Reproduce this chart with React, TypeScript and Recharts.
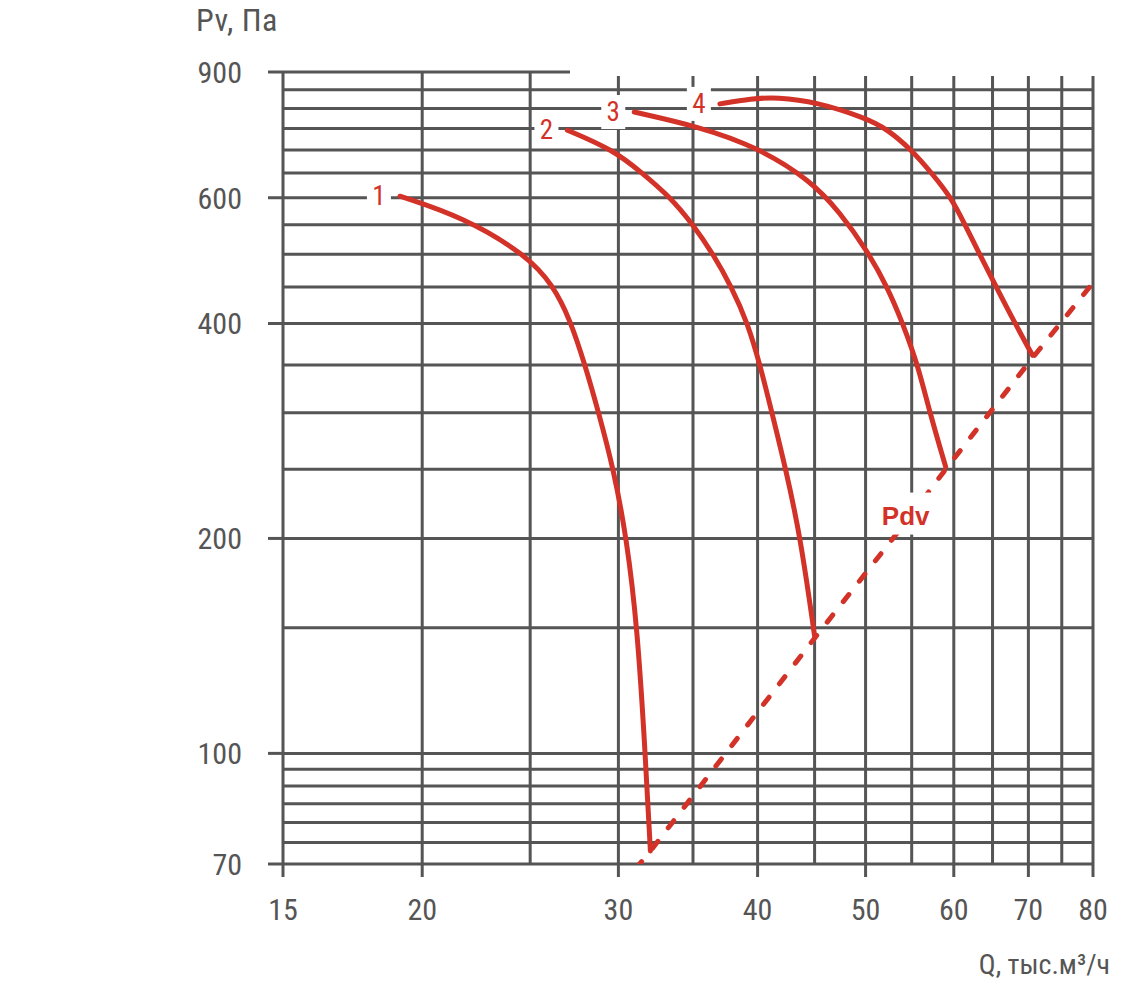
import React from 'react'
import { LineChart, Line, XAxis, YAxis, CartesianGrid, LabelList } from 'recharts'

// Q, тыс.м³/ч  /  Pv, Па (log-log)
const curve1Q = [19.1, 21.75, 24.8, 26.2, 27.15, 28.0, 28.8, 29.7, 30.5, 31.2, 31.7, 32.05]
const curve1P = [603, 564, 499, 453, 405, 350, 300, 250, 201, 150, 101, 73]

const curve2Q = [27.0, 29.7, 31.5, 33.4, 35.0, 36.5, 37.9, 39.2, 40.2, 41.2, 42.4, 43.7, 45.0]
const curve2P = [746, 700, 650, 601, 550, 500, 450, 400, 350, 300, 250, 201, 146]

const curve3Q = [31.0, 35.5, 40.0, 44.6, 47.4, 50.2, 52.3, 54.0, 55.7, 57.1, 59.0]
const curve3P = [791, 754, 706, 635, 573, 505, 450, 400, 350, 300, 252]

const curve4Q = [37.0, 39.5, 41.6, 45.2, 50.0, 52.2, 55.0, 57.3, 59.7, 61.4, 63.3, 65.5, 68.1, 70.6]
const curve4P = [812, 826, 830, 817, 776, 750, 700, 650, 600, 550, 500, 450, 400, 361]

// dynamic pressure line
const pdvQ = [31.1, 32.05, 45.0, 55.0, 59.0, 70.6, 80.0]
const pdvP = [69, 73, 145, 216, 250, 358, 456]
const pdvLabelIndex = 3

const curveNames = ['1', '2', '3', '4']

const xGrid = [15, 20, 25, 30, 35, 40, 45, 50, 55, 60, 65, 70, 75, 80]
const xLabels = [15, 20, 30, 40, 50, 60, 70, 80]
const yGrid = [70, 75, 80, 85, 90, 95, 100, 150, 200, 250, 300, 350, 400, 450, 500, 550, 600, 650, 700, 750, 800, 850, 900]
const yLabels = [70, 100, 200, 400, 600, 900]

const RED = '#d23228'
const GRID = '#555'
const TEXT = '#555'
const FONT = "'Liberation Sans Narrow', 'Roboto Condensed', Roboto, sans-serif"

const toRows = (q: number[], p: number[]) => q.map((v, i) => ({ q: v, p: p[i] }))

const curves = [
  toRows(curve1Q, curve1P),
  toRows(curve2Q, curve2P),
  toRows(curve3Q, curve3P),
  toRows(curve4Q, curve4P),
]
const pdvData = toRows(pdvQ, pdvP)

function XTick(props: any) {
  const { x, y, payload } = props
  if (!xLabels.includes(payload.value)) return null
  return (
    <g>
      <line x1={x} x2={x} y1={y} y2={y + 13} stroke={GRID} strokeWidth={3} />
      <text x={x} y={y + 56} textAnchor="middle" fill={TEXT} fontSize={30} fontFamily={FONT}>
        {payload.value}
      </text>
    </g>
  )
}

function YTick(props: any) {
  const { x, y, payload } = props
  if (!yLabels.includes(payload.value)) return null
  return (
    <g>
      <line x1={x - 15} x2={x} y1={y} y2={y} stroke={GRID} strokeWidth={3} />
      <text x={x - 41} y={y + 11} textAnchor="end" fill={TEXT} fontSize={30} fontFamily={FONT}>
        {payload.value}
      </text>
    </g>
  )
}

const curveLabel = (name: string) => (props: any) => {
  const { x, y, index } = props
  if (index !== 0) return null
  return (
    <g>
      <rect x={x - 33} y={y - 17} width={24} height={34} fill="#fff" />
      <text x={x - 21} y={y + 9} textAnchor="middle" fill={RED} fontSize={27} fontFamily={FONT}>
        {name}
      </text>
    </g>
  )
}

const pdvLabel = (props: any) => {
  const { x, y, index } = props
  if (index !== pdvLabelIndex) return null
  return (
    <g>
      <rect x={x - 35} y={y - 22} width={58} height={42} fill="#fff" />
      <text x={x - 6} y={y + 10} textAnchor="middle" fill={RED} fontSize={26} fontWeight="bold" fontFamily="'Liberation Sans', Arial, sans-serif">
        Pdv
      </text>
    </g>
  )
}

export default function App() {
  return (
    <div style={{ position: 'absolute', left: 0, top: 0, width: 1141, height: 985, background: '#fff' }}>
      <LineChart width={1141} height={985} margin={{ top: 72, right: 48, bottom: 61, left: 203 }}>
        <CartesianGrid stroke={GRID} strokeWidth={3} />
        <XAxis
          type="number"
          dataKey="q"
          scale="log"
          domain={[15, 80]}
          ticks={xGrid}
          interval={0}
          allowDataOverflow
          axisLine={false}
          tickLine={false}
          tickSize={0}
          tickMargin={0}
          height={60}
          tick={XTick}
        />
        <YAxis
          type="number"
          dataKey="p"
          scale="log"
          domain={[70, 900]}
          ticks={yGrid}
          interval={0}
          allowDataOverflow
          axisLine={false}
          tickLine={false}
          tickSize={0}
          tickMargin={0}
          width={80}
          tick={YTick}
        />
        <Line
          data={pdvData}
          dataKey="p"
          type="linear"
          stroke={RED}
          strokeWidth={5}
          strokeDasharray="9 17"
          strokeLinecap="round"
          dot={false}
          isAnimationActive={false}
        >
          <LabelList dataKey="p" content={pdvLabel} />
        </Line>
        {curves.map((rows, i) => (
          <Line
            key={curveNames[i]}
            data={rows}
            dataKey="p"
            type="basis"
            stroke={RED}
            strokeWidth={5}
            strokeLinecap="round"
            dot={false}
            isAnimationActive={false}
          >
            <LabelList dataKey="p" content={curveLabel(curveNames[i])} />
          </Line>
        ))}
      </LineChart>
      <div style={{ position: 'absolute', left: 570, top: 0, width: 571, height: 76, background: '#fff' }} />
      <div style={{ position: 'absolute', left: 196, top: 4, fontSize: 32, lineHeight: '32px', letterSpacing: 0.5, color: TEXT, fontFamily: FONT }}>
        Pv, Па
      </div>
      <div style={{ position: 'absolute', right: 31, top: 951, fontSize: 28, lineHeight: '28px', color: TEXT, fontFamily: FONT, whiteSpace: 'nowrap' }}>
        Q, тыс.м³/ч
      </div>
    </div>
  )
}
